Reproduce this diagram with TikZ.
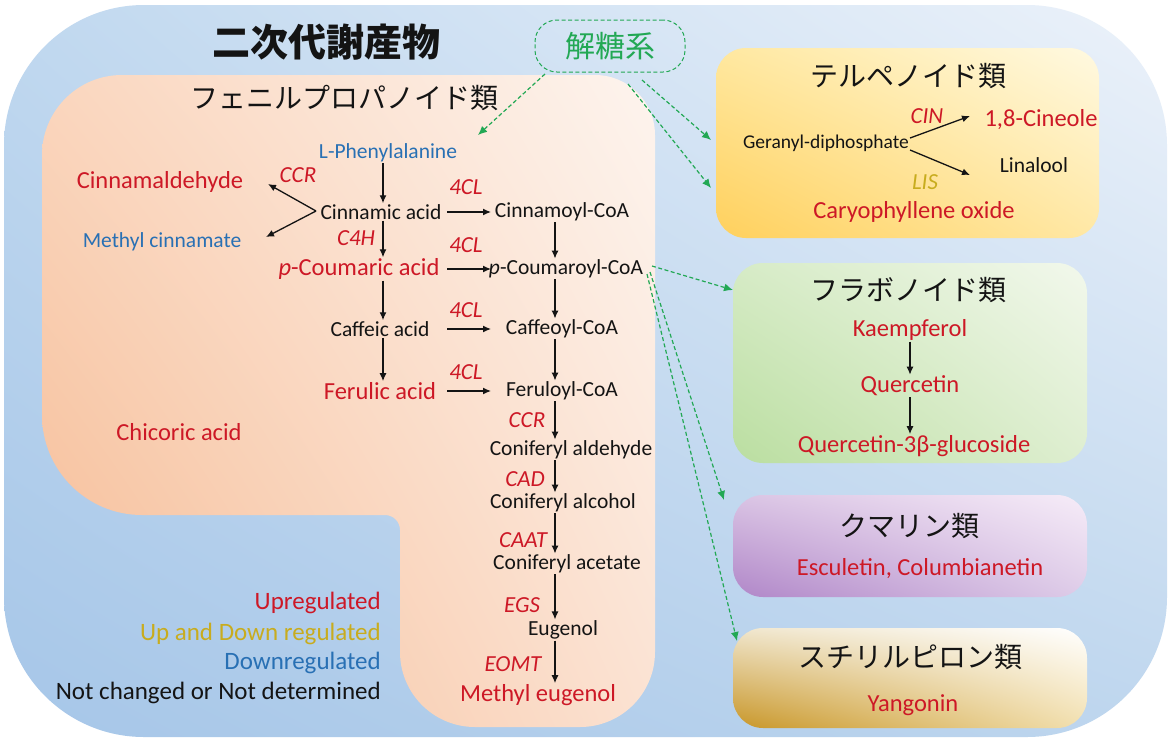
\documentclass[tikz,border=0pt]{standalone}
\usepackage{fontspec}
\setmainfont{Carlito}
\newfontfamily\jp{Noto Sans CJK JP}
\usetikzlibrary{arrows.meta,shadings}
\definecolor{myred}{RGB}{205,24,38}
\definecolor{myblue}{RGB}{40,112,180}
\definecolor{mygold}{RGB}{200,172,30}
\definecolor{mygreen}{RGB}{34,168,84}
\definecolor{txt}{RGB}{20,20,20}
\definecolor{bgUL}{RGB}{192,216,239}
\definecolor{bgUR}{RGB}{236,242,250}
\definecolor{bgLL}{RGB}{166,198,232}
\definecolor{bgLR}{RGB}{190,214,238}
\definecolor{phUL}{RGB}{250,214,190}
\definecolor{phUR}{RGB}{253,244,238}
\definecolor{phLL}{RGB}{246,186,146}
\definecolor{phLR}{RGB}{251,226,210}
\definecolor{teUL}{RGB}{255,232,160}
\definecolor{teUR}{RGB}{255,249,225}
\definecolor{teLL}{RGB}{255,208,92}
\definecolor{teLR}{RGB}{255,232,165}
\definecolor{flUL}{RGB}{214,235,198}
\definecolor{flUR}{RGB}{242,248,236}
\definecolor{flLL}{RGB}{186,222,160}
\definecolor{flLR}{RGB}{222,238,208}
\definecolor{coUL}{RGB}{218,196,228}
\definecolor{coUR}{RGB}{246,236,248}
\definecolor{coLL}{RGB}{176,134,200}
\definecolor{coLR}{RGB}{222,204,232}
\definecolor{stUL}{RGB}{240,230,205}
\definecolor{stUR}{RGB}{255,255,255}
\definecolor{stLL}{RGB}{200,150,40}
\definecolor{stLR}{RGB}{242,224,176}
\begin{document}
\begin{tikzpicture}[x=1pt,y=-1pt,
  met/.style={font=\fontsize{21.5}{24}\selectfont, text=txt, inner sep=1pt},
  metb/.style={font=\fontsize{21.5}{24}\selectfont, text=myblue, inner sep=1pt},
  metr/.style={font=\fontsize{24.5}{28}\selectfont, text=myred, inner sep=1pt},
  enz/.style={font=\fontsize{23}{26}\selectfont\itshape, text=myred, inner sep=1pt},
  jt/.style={font=\jp\fontsize{28}{32}\selectfont, text=txt, inner sep=1pt},
  leg/.style={font=\fontsize{25}{28}\selectfont, anchor=east, inner sep=1pt},
  arr/.style={draw=txt, line width=1.3pt, -{Latex[length=8pt,width=7pt]}},
  garr/.style={draw=mygreen, dashed, dash pattern=on 4pt off 2.5pt, line width=1.2pt, -{Latex[length=9pt,width=8pt]}},
  rbox/.style={rounded corners=30pt},
]
\useasboundingbox (0,0) rectangle (1171,740);
\fill[white] (0,0) rectangle (1171,740);
% outer background
\shade[rounded corners=140pt, upper left=bgUL, upper right=bgUR, lower left=bgLL, lower right=bgLR]
  (4,5) rectangle (1167,737);
% phenylpropanoid region
\shade[upper left=phUL, upper right=phUR, lower left=phLL, lower right=phLR]
  (42,155) -- (42,415) arc (180:90:100) -- (385,515) arc (-90:0:15)
  -- (400,652) arc (180:90:75) -- (580,727) arc (90:0:75)
  -- (655,135) arc (0:-90:60) -- (122,75) arc (-90:-180:80) -- cycle;
% right boxes
\shade[rbox, upper left=teUL, upper right=teUR, lower left=teLL, lower right=teLR]
  (716,48) rectangle (1099,238);
\shade[rbox, upper left=flUL, upper right=flUR, lower left=flLL, lower right=flLR]
  (733,263) rectangle (1087,463);
\shade[rbox, upper left=coUL, upper right=coUR, lower left=coLL, lower right=coLR]
  (733,495) rectangle (1087,597);
\shade[rbox, upper left=stUL, upper right=stUR, lower left=stLL, lower right=stLR]
  (733,628) rectangle (1087,728);

% titles
\node[jt, font=\jp\bfseries\fontsize{38}{42}\selectfont] (title) at (326,42) {二次代謝産物};
\node[jt] (phtitle) at (344,98) {フェニルプロパノイド類};
\node[draw=mygreen, dashed, dash pattern=on 4pt off 2.5pt, line width=1pt, rounded corners=22pt,
  minimum width=150pt, minimum height=52pt, text=mygreen,
  font=\jp\fontsize{30}{34}\selectfont] (gly) at (610,46) {解糖系};

% phenylpropanoid pathway
\node[metb] (phe) at (388,153) {L-Phenylalanine};
\node[metr] (cald) at (160,182) {Cinnamaldehyde};
\node[enz] (ccr1) at (298,175) {CCR};
\node[met] (cin) at (381,212) {Cinnamic acid};
\node[metb] (mcin) at (162,242) {Methyl cinnamate};
\node[enz] (c4h) at (356,238) {C4H};
\node[enz] (cl1) at (466,187) {4CL};
\node[met] (cincoa) at (562,212) {Cinnamoyl-CoA};
\node[metr] (pcou) at (359,269) {\textit{p}-Coumaric acid};
\node[enz] (cl2) at (466,245) {4CL};
\node[met] (pcoa) at (566,269) {\textit{p}-Coumaroyl-CoA};
\node[met] (caf) at (380,329) {Caffeic acid};
\node[enz] (cl3) at (466,310) {4CL};
\node[met] (cafcoa) at (562,329) {Caffeoyl-CoA};
\node[metr] (fer) at (380,391) {Ferulic acid};
\node[enz] (cl4) at (466,372) {4CL};
\node[met] (fercoa) at (562,391) {Feruloyl-CoA};
\node[metr] (chic) at (179,432) {Chicoric acid};
\node[enz] (ccr2) at (527,420) {CCR};
\node[met] (cald2) at (571,450) {Coniferyl aldehyde};
\node[enz] (cad) at (525,479) {CAD};
\node[met] (calc) at (563,503) {Coniferyl alcohol};
\node[enz] (caat) at (523,540) {CAAT};
\node[met] (cace) at (567,564) {Coniferyl acetate};
\node[enz] (egs) at (522,605) {EGS};
\node[met] (eug) at (563,630) {Eugenol};
\node[enz] (eomt) at (513,664) {EOMT};
\node[metr] (meug) at (538,695) {Methyl eugenol};

% legend
\node[leg, text=myred] (lup) at (382,603) {Upregulated};
\node[leg, text=mygold] (lud) at (382,634) {Up and Down regulated};
\node[leg, text=myblue] (ldn) at (382,663) {Downregulated};
\node[leg, text=txt] (lnc) at (382,693) {Not changed or Not determined};

% columns for arrows
\coordinate (cL) at (383,0);
\coordinate (cR) at (555,0);
\coordinate (hA) at (447,0);
\coordinate (hB) at (491,0);
\draw[arr] (phe.south -| cL) -- (cin.north -| cL);
\draw[arr] (cin.south -| cL) -- (pcou.north -| cL);
\draw[arr] (pcou.south -| cL) -- (caf.north -| cL);
\draw[arr] (caf.south -| cL) -- (fer.north -| cL);
\draw[arr] (cincoa.south -| cR) -- (pcoa.north -| cR);
\draw[arr] (pcoa.south -| cR) -- (cafcoa.north -| cR);
\draw[arr] (cafcoa.south -| cR) -- (fercoa.north -| cR);
\draw[arr] (fercoa.south -| cR) -- (cald2.north -| cR);
\draw[arr] (cald2.south -| cR) -- (calc.north -| cR);
\draw[arr] (calc.south -| cR) -- (cace.north -| cR);
\draw[arr] (cace.south -| cR) -- (eug.north -| cR);
\draw[arr] (eug.south -| cR) -- (meug.north -| cR);
\draw[arr] (cin.east -| hA) -- (cincoa.west -| hB);
\draw[arr] (pcou.east -| hA) -- (pcoa.west -| hB);
\draw[arr] (caf.east -| hA) -- (cafcoa.west -| hB);
\draw[arr] (fer.east -| hA) -- (fercoa.west -| hB);
% branch
\coordinate (vtx) at (316,211);
\coordinate (caldT) at (268,184);
\coordinate (mcinT) at (266,237);
\draw[arr] (vtx) -- (caldT);
\draw[arr] (vtx) -- (mcinT);

% terpenoids
\node[jt] (terpt) at (908,76) {テルペノイド類};
\node[met, font=\fontsize{19.5}{22}\selectfont] (gpp) at (826,143) {Geranyl-diphosphate};
\node[enz] (cin2) at (927,116) {CIN};
\node[metr] (cine) at (1041,120) {1,8-Cineole};
\node[met] (lin) at (1034,165) {Linalool};
\node[enz, text=mygold] (lis) at (925,182) {LIS};
\node[metr] (caryo) at (914,212) {Caryophyllene oxide};
\coordinate (tA) at (970,116);
\coordinate (tB) at (970,175);
\draw[arr] ([yshift=5pt]gpp.east) -- (tA);
\draw[arr] ([yshift=-7pt]gpp.east) -- (tB);

% flavonoids
\node[jt] (flt) at (908,290) {フラボノイド類};
\node[metr] (kae) at (910,330) {Kaempferol};
\node[metr] (que) at (910,386) {Quercetin};
\node[metr] (q3g) at (914,446) {Quercetin-3β-glucoside};
\draw[arr] (kae.south) -- (que.north -| kae.south);
\draw[arr] (que.south -| kae.south) -- (q3g.north -| kae.south);

% coumarins
\node[jt] (cout) at (909,526) {クマリン類};
\node[metr] (esc) at (920,569) {Esculetin, Columbianetin};

% styrylpyrones
\node[jt] (stt) at (910,657) {スチリルピロン類};
\node[metr] (yan) at (913,705) {Yangonin};

% green dashed arrows
\coordinate (g1s) at (545,74);
\coordinate (g1e) at (478,135);
\coordinate (g2s) at (628,84);
\coordinate (g2e) at (711,188);
\coordinate (g3s) at (642,80);
\coordinate (g3e) at (711,140);
\draw[garr] (g1s) -- (g1e);
\draw[garr] (g2s) -- (g2e);
\draw[garr] (g3s) -- (g3e);
\coordinate (p1) at (652,266);
\coordinate (p2) at (650,272);
\coordinate (p3) at (647,274);
\coordinate (f1) at (733,290);
\coordinate (f2) at (724,500);
\coordinate (f3) at (737,641);
\draw[garr] (p1) -- (f1);
\draw[garr] (p2) -- (f2);
\draw[garr] (p3) -- (f3);
\end{tikzpicture}
\end{document}
